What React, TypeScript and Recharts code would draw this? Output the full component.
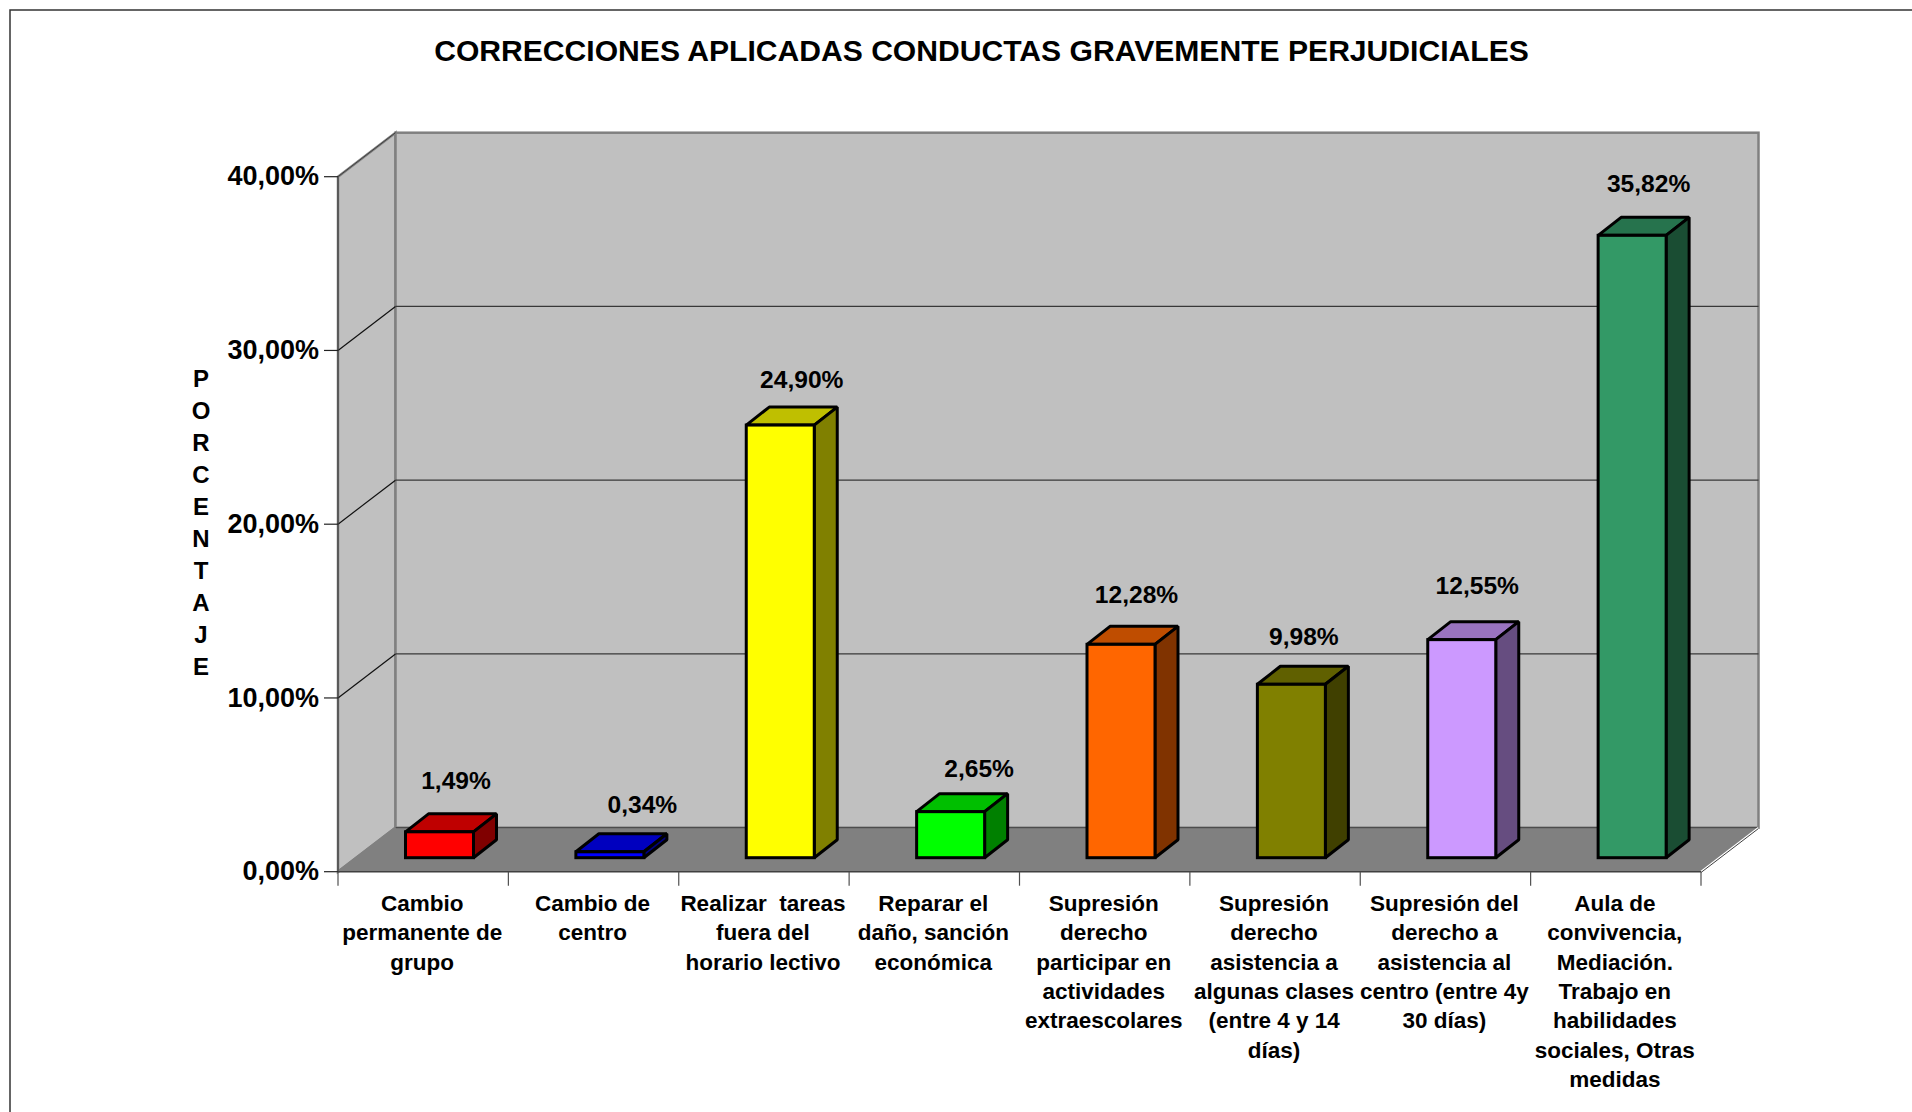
import React from 'react';
import { BarChart, Bar, XAxis, YAxis, CartesianGrid, LabelList } from 'recharts';

const categories = [
  ['Cambio', 'permanente de', 'grupo'],
  ['Cambio de', 'centro'],
  ['Realizar  tareas', 'fuera del', 'horario lectivo'],
  ['Reparar el', 'daño, sanción', 'económica'],
  ['Supresión', 'derecho', 'participar en', 'actividades', 'extraescolares'],
  ['Supresión', 'derecho', 'asistencia a', 'algunas clases', '(entre 4 y 14', 'días)'],
  ['Supresión del', 'derecho a', 'asistencia al', 'centro (entre 4y', '30 días)'],
  ['Aula de', 'convivencia,', 'Mediación.', 'Trabajo en', 'habilidades', 'sociales, Otras', 'medidas'],
];
const values = [1.49, 0.34, 24.9, 2.65, 12.28, 9.98, 12.55, 35.82];
const barColors = ['#FF0000', '#0000FF', '#FFFF00', '#00FF00', '#FF6600', '#808000', '#CC99FF', '#339966'];
const yTicks = [0, 10, 20, 30, 40];
const axisTitle = ['P', 'O', 'R', 'C', 'E', 'N', 'T', 'A', 'J', 'E'];
// the value labels were moved by hand in the original
const labelNudgeX = [0, 16, 5, 12, -1, -4, -1, 0];
const labelNudgeY = [2, 6, 7, 10, 3, 5, -1, 1];

const chartData = categories.map((lines, i) => ({ name: i, lines, value: values[i] }));

const FONT = '"Liberation Sans", Arial, sans-serif';
const WIDTH = 1912;
const HEIGHT = 1112;
const PLOT_LEFT = 338;
const PLOT_RIGHT = 1701;
const PLOT_TOP = 176.7;
const PLOT_BOTTOM = 871.7;
const BAND = (PLOT_RIGHT - PLOT_LEFT) / categories.length;
// depth of the fake 3D box
const WALL_DX = 57.5;
const WALL_DY = -44;
const BAR_DX = 23;
const BAR_DY = -18;
const BAR_SHIFT_X = 16.5;
const BAR_SHIFT_Y = -14;

const formatPct = (v: number) => `${v.toFixed(2).replace('.', ',')}%`;

const shade = (hex: string, k: number) => {
  const n = parseInt(hex.slice(1), 16);
  const c = [(n >> 16) & 255, (n >> 8) & 255, n & 255].map((v) => Math.round(v * k));
  return `rgb(${c[0]},${c[1]},${c[2]})`;
};

const Box = (props: any) => {
  const { x, y, width, height, index } = props;
  const color = barColors[index];
  const l = x + BAR_SHIFT_X;
  const t = y + BAR_SHIFT_Y;
  const r = l + width;
  const b = t + height;
  return (
    <g stroke="#000" strokeWidth={3} strokeLinejoin="bevel">
      <polygon points={`${l},${t} ${l + BAR_DX},${t + BAR_DY} ${r + BAR_DX},${t + BAR_DY} ${r},${t}`} fill={shade(color, 0.75)} />
      <polygon points={`${r},${t} ${r + BAR_DX},${t + BAR_DY} ${r + BAR_DX},${b + BAR_DY} ${r},${b}`} fill={shade(color, 0.5)} />
      <rect x={l} y={t} width={width} height={height} fill={color} strokeLinejoin="miter" />
    </g>
  );
};

const BarValue = (props: any) => {
  const { x, y, width, value, index } = props;
  return (
    <text
      x={x + BAR_SHIFT_X + width / 2 + 16.5 + labelNudgeX[index]}
      y={y + BAR_SHIFT_Y + BAR_DY - 35 + labelNudgeY[index]}
      textAnchor="middle"
      dominantBaseline="central"
      fontFamily={FONT}
      fontWeight="bold"
      fontSize={24.6}
      fill="#000"
    >
      {formatPct(value)}
    </text>
  );
};

const CategoryTick = (props: any) => {
  const { x, payload } = props;
  const lines: string[] = categories[payload.value];
  const tickY2 = PLOT_BOTTOM + 14;
  return (
    <g>
      <line x1={x - BAND / 2} y1={PLOT_BOTTOM} x2={x - BAND / 2} y2={tickY2} stroke="#505050" strokeWidth={1.2} />
      {payload.value === categories.length - 1 && (
        <line x1={x + BAND / 2} y1={PLOT_BOTTOM} x2={x + BAND / 2} y2={tickY2} stroke="#505050" strokeWidth={1.2} />
      )}
      <text textAnchor="middle" fontFamily={FONT} fontWeight="bold" fontSize={22.5} fill="#000" style={{ whiteSpace: 'pre' }}>
        {lines.map((line, i) => (
          <tspan key={i} x={x - 1} y={911 + i * 29.3}>
            {line}
          </tspan>
        ))}
      </text>
    </g>
  );
};

const WallLine = (props: any) => {
  const { x1, x2, y1 } = props;
  if (Math.abs(y1 - PLOT_BOTTOM) < 1 || Math.abs(y1 - PLOT_TOP) < 1) return <g />;
  return (
    <g fill="none" strokeWidth={1.2}>
      <line x1={x1} y1={y1} x2={x1 + WALL_DX} y2={y1 + WALL_DY} stroke="#111" />
      <line x1={x1 + WALL_DX} y1={y1 + WALL_DY} x2={x2 + WALL_DX} y2={y1 + WALL_DY} stroke="#383838" />
    </g>
  );
};

const Walls = () => {
  const bl = PLOT_LEFT + WALL_DX;
  const br = PLOT_RIGHT + WALL_DX;
  const tt = PLOT_TOP + WALL_DY;
  const tb = PLOT_BOTTOM + WALL_DY;
  return (
    <svg width={WIDTH} height={HEIGHT} style={{ position: 'absolute', left: 0, top: 0 }}>
      <rect x={10} y={10} width={2400} height={2400} fill="#fff" stroke="#333" strokeWidth={1.5} />
      <polygon points={`${PLOT_LEFT},${PLOT_TOP} ${bl},${tt} ${bl},${tb} ${PLOT_LEFT},${PLOT_BOTTOM}`} fill="#C0C0C0" stroke="#808080" strokeWidth={2.5} />
      <rect x={bl} y={tt} width={br - bl} height={tb - tt} fill="#C0C0C0" stroke="#808080" strokeWidth={2.5} />
      <polygon points={`${PLOT_LEFT},${PLOT_BOTTOM} ${bl},${tb} ${br},${tb} ${PLOT_RIGHT},${PLOT_BOTTOM}`} fill="#808080" />
      <line x1={bl} y1={tb} x2={br} y2={tb} stroke="#404040" strokeWidth={1} />
      <line x1={PLOT_LEFT} y1={PLOT_BOTTOM} x2={bl} y2={tb} stroke="#808080" strokeWidth={2.5} />
      <line x1={PLOT_LEFT} y1={PLOT_TOP} x2={bl} y2={tt} stroke="#404040" strokeWidth={1} />
      <line x1={PLOT_RIGHT} y1={PLOT_BOTTOM} x2={br} y2={tb} stroke="#fff" strokeWidth={2} />
      <line x1={PLOT_RIGHT} y1={PLOT_BOTTOM + 0.8} x2={br} y2={tb + 0.8} stroke="#404040" strokeWidth={1} />
    </svg>
  );
};

const App = () => (
  <div style={{ position: 'absolute', left: 0, top: 0, width: WIDTH, height: HEIGHT, background: '#fff', overflow: 'hidden' }}>
    <Walls />
    <div style={{ position: 'absolute', left: 0, top: 0 }}>
      <BarChart
        width={WIDTH}
        height={HEIGHT}
        data={chartData}
        margin={{ top: PLOT_TOP, right: WIDTH - PLOT_RIGHT, bottom: 0, left: 0 }}
        barSize={68}
      >
        <CartesianGrid vertical={false} horizontal={WallLine as any} />
        <XAxis
          dataKey="name"
          height={HEIGHT - PLOT_BOTTOM}
          interval={0}
          tick={CategoryTick as any}
          tickLine={false}
          axisLine={{ stroke: '#404040', strokeWidth: 1.5 }}
        />
        <YAxis
          width={PLOT_LEFT}
          domain={[0, 40]}
          ticks={yTicks}
          tickFormatter={formatPct}
          tickSize={14}
          tickMargin={5}
          tick={{ fontFamily: FONT, fontWeight: 'bold', fontSize: 27, fill: '#000', dy: -1 }}
          tickLine={{ stroke: '#222', strokeWidth: 1.2 }}
          axisLine={{ stroke: '#404040', strokeWidth: 1.2 }}
        />
        <Bar dataKey="value" shape={Box as any} isAnimationActive={false}>
          <LabelList dataKey="value" content={BarValue as any} />
        </Bar>
        <text x={981.5} y={50.5} textAnchor="middle" dominantBaseline="central" fontFamily={FONT} fontWeight="bold" fontSize={30.1} fill="#000">
          CORRECCIONES APLICADAS CONDUCTAS GRAVEMENTE PERJUDICIALES
        </text>
        <text textAnchor="middle" fontFamily={FONT} fontWeight="bold" fontSize={24} fill="#000">
          {axisTitle.map((ch, i) => (
            <tspan key={i} x={201} y={387 + i * 32}>
              {ch}
            </tspan>
          ))}
        </text>
      </BarChart>
    </div>
  </div>
);

export default App;
